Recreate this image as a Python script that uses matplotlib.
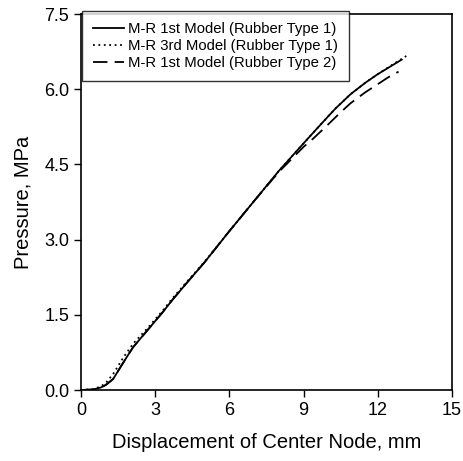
import matplotlib
matplotlib.use('agg')
import matplotlib.pyplot as plt

# Displacement of center node (mm) vs pressure (MPa)
x_r1_m1 = [0, 0.5, 0.8, 1.0, 1.3, 1.7, 2.1, 2.7, 3.3, 3.7, 4.3, 5.0, 6.0, 7.0, 8.0, 8.4, 9.0, 9.7, 10.3, 10.9, 11.5, 12.0, 12.5, 12.97]
y_r1_m1 = [0, 0.01, 0.05, 0.1, 0.22, 0.54, 0.85, 1.2, 1.55, 1.8, 2.15, 2.55, 3.17, 3.77, 4.37, 4.59, 4.92, 5.3, 5.62, 5.9, 6.13, 6.3, 6.45, 6.59]

x_r1_m3 = [0, 0.5, 0.8, 1.0, 1.3, 1.7, 2.1, 2.7, 3.3, 3.7, 4.3, 5.0, 6.0, 7.0, 8.0, 8.4, 9.0, 9.7, 10.3, 10.9, 11.5, 12.0, 12.5, 13.24]
y_r1_m3 = [0, 0.02, 0.07, 0.14, 0.32, 0.64, 0.92, 1.24, 1.58, 1.83, 2.17, 2.56, 3.17, 3.77, 4.37, 4.59, 4.92, 5.3, 5.62, 5.9, 6.13, 6.3, 6.46, 6.69]

x_r2_m1 = [0, 0.5, 0.8, 1.0, 1.3, 1.7, 2.1, 2.7, 3.3, 3.7, 4.3, 5.0, 6.0, 7.0, 8.0, 8.4, 9.0, 9.4, 10.0, 10.5, 10.9, 11.5, 12.0, 12.4, 12.84]
y_r2_m1 = [0, 0.01, 0.05, 0.1, 0.22, 0.54, 0.85, 1.2, 1.55, 1.8, 2.15, 2.55, 3.17, 3.77, 4.35, 4.55, 4.85, 5.02, 5.3, 5.54, 5.72, 5.94, 6.1, 6.23, 6.35]

names = ["M-R 1st Model (Rubber Type 1)", "M-R 3rd Model (Rubber Type 1)", "M-R 1st Model (Rubber Type 2)"]
xticks = [0, 3, 6, 9, 12, 15]
yticks = [0.0, 1.5, 3.0, 4.5, 6.0, 7.5]

plt.rcParams['font.family'] = ['Liberation Sans', 'DejaVu Sans']

fig = plt.figure(figsize=(4.64, 4.61), dpi=100)
ax = fig.add_axes([0.1746, 0.154, 0.7994, 0.8156])

ax.plot(x_r1_m1, y_r1_m1, color='black', linestyle='-', linewidth=1.3, label=names[0])
ax.plot(x_r1_m3, y_r1_m3, color='black', linestyle=(0, (1, 2)), linewidth=1.3, label=names[1])
ax.plot(x_r2_m1, y_r2_m1, color='black', linestyle=(0, (8, 4)), linewidth=1.3, label=names[2])

ax.set_xlim(0, 15)
ax.set_ylim(0, 7.5)
ax.set_xticks(xticks)
ax.set_yticks(yticks)
ax.set_xticklabels([str(t) for t in xticks])
ax.set_yticklabels(["%.1f" % t for t in yticks])
ax.tick_params(direction='out', length=5, width=1, labelsize=13, colors='black')
for s in ax.spines.values():
    s.set_linewidth(1.2)

ax.set_xlabel("Displacement of Center Node, mm", fontsize=14.5, labelpad=10)
ax.set_ylabel("Pressure, MPa", fontsize=14.5, labelpad=8)

leg = ax.legend(loc='upper left', bbox_to_anchor=(0.002, 1.008), fontsize=10.7,
                frameon=True, fancybox=False, edgecolor='black', handlelength=2.1,
                borderpad=0.75, labelspacing=0.2, handletextpad=0.25, borderaxespad=0.0)
leg.get_frame().set_linewidth(1.0)

fig.savefig("out.png", dpi=100)
plt.close(fig)
